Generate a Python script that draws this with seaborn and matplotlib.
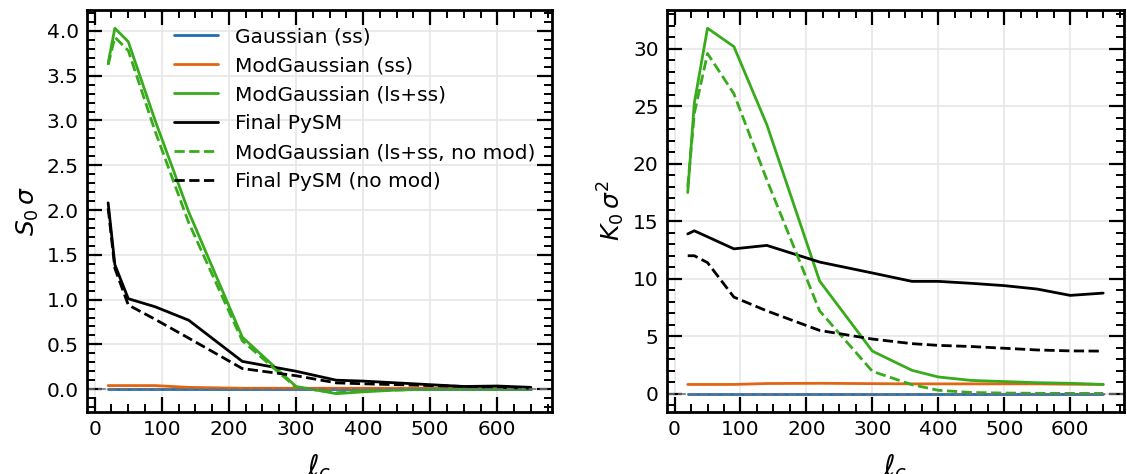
import numpy as np
import pandas as pd
import matplotlib
matplotlib.use("Agg")
import matplotlib.pyplot as plt
from matplotlib.ticker import MultipleLocator
import seaborn as sns

# ---- data ----
ell_c = [20, 30, 50, 90, 140, 220, 300, 360, 400, 450, 500, 550, 600, 650]

# left panel: S0 sigma
s_gauss_ss = [0.0, 0.0, 0.0, 0.0, 0.0, 0.0, 0.0, 0.0, 0.0, 0.0, 0.0, 0.0, 0.0, 0.0]
s_mod_ss = [0.04, 0.04, 0.04, 0.04, 0.02, 0.01, 0.01, 0.01, 0.01, 0.01, 0.01, 0.01, 0.01, 0.01]
s_mod_lsss = [3.64, 4.03, 3.88, 3.0, 1.98, 0.58, 0.03, -0.05, -0.03, -0.01, 0.0, 0.0, 0.0, 0.0]
s_final = [2.08, 1.39, 1.01, 0.92, 0.77, 0.31, 0.2, 0.1, 0.09, 0.07, 0.05, 0.03, 0.035, 0.02]
s_mod_lsss_nomod = [3.62, 3.93, 3.78, 2.88, 1.86, 0.54, 0.02, -0.04, -0.02, -0.01, 0.0, 0.0, 0.0, 0.0]
s_final_nomod = [2.02, 1.35, 0.94, 0.78, 0.57, 0.23, 0.15, 0.07, 0.06, 0.05, 0.04, 0.03, 0.02, 0.01]

# right panel: K0 sigma^2
k_gauss_ss = [0.0, 0.0, 0.0, 0.0, 0.0, 0.0, 0.0, 0.0, 0.0, 0.0, 0.0, 0.0, 0.0, 0.0]
k_mod_ss = [0.8, 0.8, 0.8, 0.8, 0.88, 0.9, 0.87, 0.85, 0.85, 0.85, 0.85, 0.85, 0.82, 0.8]
k_mod_lsss = [17.5, 25.3, 31.8, 30.2, 23.4, 9.8, 3.7, 2.03, 1.45, 1.15, 1.05, 0.95, 0.9, 0.8]
k_final = [13.9, 14.17, 13.65, 12.6, 12.9, 11.45, 10.5, 9.77, 9.77, 9.6, 9.4, 9.1, 8.55, 8.75]
k_mod_lsss_nomod = [18.0, 24.4, 29.6, 26.1, 18.6, 7.2, 1.94, 0.78, 0.29, 0.1, 0.05, 0.03, 0.02, 0.02]
k_final_nomod = [12.0, 12.0, 11.4, 8.4, 7.2, 5.5, 4.75, 4.35, 4.2, 4.1, 3.95, 3.8, 3.72, 3.7]

labels = ["Gaussian (ss)", "ModGaussian (ss)", "ModGaussian (ls+ss)", "Final PySM",
          "ModGaussian (ls+ss, no mod)", "Final PySM (no mod)"]
colors = ["#1f6eb4", "#e36412", "#38ab1c", "black", "#38ab1c", "black"]
styles = ["-", "-", "-", "-", "--", "--"]

sns.set_style("ticks")
plt.rcParams["font.family"] = ["DejaVu Sans"]
plt.rcParams.update({
    "font.size": 14,
    "text.color": "black", "axes.labelcolor": "black",
    "axes.edgecolor": "black", "xtick.color": "black", "ytick.color": "black",
    "axes.linewidth": 2.0,
    "xtick.direction": "in", "ytick.direction": "in",
    "xtick.top": True, "ytick.right": True,
    "xtick.major.size": 11, "ytick.major.size": 11,
    "xtick.minor.size": 5.5, "ytick.minor.size": 5.5,
    "xtick.major.width": 1.6, "ytick.major.width": 1.6,
    "xtick.minor.width": 1.4, "ytick.minor.width": 1.4,
    "xtick.minor.visible": True, "ytick.minor.visible": True,
    "xtick.labelsize": 14.5, "ytick.labelsize": 14.5,
    "xtick.major.pad": 6, "ytick.major.pad": 6,
})

fig = plt.figure(figsize=(11.27, 4.74), dpi=100)
ax1 = fig.add_axes([0.0772, 0.131, 0.4126, 0.848])
ax2 = fig.add_axes([0.5918, 0.131, 0.4055, 0.848])

left_series = [s_gauss_ss, s_mod_ss, s_mod_lsss, s_final, s_mod_lsss_nomod, s_final_nomod]
right_series = [k_gauss_ss, k_mod_ss, k_mod_lsss, k_final, k_mod_lsss_nomod, k_final_nomod]

for ax, series in [(ax1, left_series), (ax2, right_series)]:
    for vals, lab, col, ls in zip(series, labels, colors, styles):
        sns.lineplot(x=ell_c, y=vals, ax=ax, color=col, linestyle=ls, lw=2.0,
                     label=lab, legend=False)
    ax.axhline(0, color="0.45", ls="--", lw=1.5, alpha=0.8)
    ax.grid(True, which="major", color="0.9", lw=1.2)
    ax.set_axisbelow(True)
    ax.xaxis.set_major_locator(MultipleLocator(100))
    ax.xaxis.set_minor_locator(MultipleLocator(25))
    ax.set_xlabel(r"$\ell_c$", fontsize=20, labelpad=9)
    ax.tick_params(which="both", top=True, right=True)

ax1.yaxis.set_major_locator(MultipleLocator(0.5))
ax1.yaxis.set_minor_locator(MultipleLocator(0.1))
ax2.yaxis.set_major_locator(MultipleLocator(5))
ax2.yaxis.set_minor_locator(MultipleLocator(1))
ax1.set_ylabel(r"$S_0\,\sigma$", fontsize=18)
ax2.set_ylabel(r"$K_0\,\sigma^2$", fontsize=18)

handles, labs = ax1.get_legend_handles_labels()
ax1.legend(handles, labs, loc="upper right", frameon=False, fontsize=14.5,
           handlelength=2.2, labelspacing=0.5, borderaxespad=0.45,
           handletextpad=0.8)

fig.savefig("out.png", dpi=100)
